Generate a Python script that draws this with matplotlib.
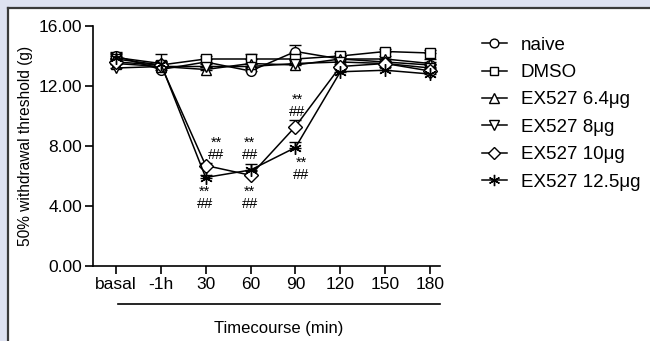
import matplotlib
matplotlib.use("Agg")
import matplotlib.pyplot as plt
from matplotlib.patches import Rectangle
from matplotlib.lines import Line2D
import numpy as np

plt.rcParams['font.family'] = ['Liberation Sans', 'DejaVu Sans']

categories = ["basal", "-1h", "30", "60", "90", "120", "150", "180"]
series_names = ["naive", "DMSO", "EX527 6.4\u03bcg", "EX527 8\u03bcg", "EX527 10\u03bcg", "EX527 12.5\u03bcg"]

naive      = [14.0, 13.1, 13.6, 13.0, 14.3, 13.8, 13.6, 13.4]
dmso       = [13.8, 13.4, 13.8, 13.8, 13.8, 14.0, 14.3, 14.2]
ex527_6_4  = [13.5, 13.3, 13.1, 13.5, 13.4, 13.8, 13.8, 13.5]
ex527_8    = [13.2, 13.3, 13.3, 13.3, 13.5, 13.6, 13.5, 13.2]
ex527_10   = [13.6, 13.4, 6.7, 6.05, 9.3, 13.3, 13.5, 13.0]
ex527_12_5 = [13.9, 13.5, 5.9, 6.4, 7.9, 12.95, 13.05, 12.8]

naive_err      = [0.3, 0.3, 0.2, 0.2, 0.4, 0.2, 0.2, 0.2]
dmso_err       = [0.3, 0.2, 0.2, 0.3, 0.3, 0.2, 0.2, 0.2]
ex527_6_4_err  = [0.3, 0.8, 0.2, 0.3, 0.3, 0.2, 0.2, 0.3]
ex527_8_err    = [0.3, 0.2, 0.2, 0.2, 0.3, 0.2, 0.2, 0.3]
ex527_10_err   = [0.3, 0.2, 0.2, 0.3, 0.4, 0.2, 0.2, 0.3]
ex527_12_5_err = [0.3, 0.2, 0.2, 0.4, 0.4, 0.2, 0.2, 0.3]

y_ticks = [0, 4, 8, 12, 16]

series = [naive, dmso, ex527_6_4, ex527_8, ex527_10, ex527_12_5]
errs = [naive_err, dmso_err, ex527_6_4_err, ex527_8_err, ex527_10_err, ex527_12_5_err]
markers = ['o', 's', '^', 'v', 'D', (6, 2, 0)]
msizes = [7, 7, 7.5, 7.5, 7, 9]

fig = plt.figure(figsize=(6.5, 3.41), dpi=100)
fig.patch.set_facecolor('#dee2f1')
# white panel with dark left/top border
fig.patches.append(Rectangle((7/650, -0.1), 1.2, 1.1 - 7/341, transform=fig.transFigure,
                             facecolor='white', edgecolor='none', zorder=-5))
fig.lines.append(Line2D([7.5/650, 7.5/650], [0, 1 - 7.5/341], transform=fig.transFigure,
                        color='#3a3a3a', lw=1.6, zorder=-4))
fig.lines.append(Line2D([7.5/650, 1], [1 - 7.5/341, 1 - 7.5/341], transform=fig.transFigure,
                        color='#3a3a3a', lw=1.6, zorder=-4))

ax = fig.add_axes([93/650, 1 - 266/341, (440 - 93)/650, (266 - 26)/341])
ax.set_facecolor('none')
x = np.arange(len(categories))

handles = []
for vals, e, m, ms, name in zip(series, errs, markers, msizes, series_names):
    ax.errorbar(x, vals, yerr=[np.zeros(len(e)), e], fmt='none', ecolor='black',
                elinewidth=1.0, capsize=4, capthick=1.0, zorder=2)
    h, = ax.plot(x, vals, color='black', lw=1.1, marker=m, markersize=ms,
                 markerfacecolor='white', markeredgecolor='black', markeredgewidth=1.0,
                 label=name, zorder=3)
    handles.append(h)

ax.set_xlim(-0.51, 7.22)
ax.set_ylim(0, 16)
ax.set_yticks(y_ticks)
ax.set_yticklabels([f"{v:.2f}" for v in y_ticks], fontsize=12.5)
ax.set_xticks(x)
ax.set_xticklabels(categories, fontsize=12.5)
ax.spines['top'].set_visible(False)
ax.spines['right'].set_visible(False)
for s in ['left', 'bottom']:
    ax.spines[s].set_linewidth(1.2)
ax.tick_params(axis='both', length=6, width=1.2, pad=2)
ax.set_ylabel("50% withdrawal threshold (g)", fontsize=11.2, labelpad=4)

# significance marks (x, y centre of the two-line "**/##" stack)
ann = [(2.24, 7.8), (2.98, 7.8), (1.98, 4.55), (2.98, 4.55), (4.04, 10.7), (4.13, 6.45)]
for ax_x, yc in ann:
    ax.text(ax_x, yc, "**\n##", ha='center', va='center', fontsize=10.5,
            linespacing=0.85, multialignment='center')

# bracket line below tick labels and x label
fig.lines.append(Line2D([118/650, 440/650], [1 - 304/341, 1 - 304/341],
                        transform=fig.transFigure, color='black', lw=1.2))
fig.text(279/650, 1 - 328/341, "Timecourse (min)", ha='center', va='center', fontsize=12)

leg = fig.legend(handles=handles, loc='upper left', bbox_to_anchor=(474/650, 1 - 29/341),
                 frameon=False, fontsize=13.5, handlelength=1.35, handletextpad=0.75,
                 labelspacing=0.55, borderaxespad=0, markerscale=0.9)

fig.savefig("out.png", dpi=100, facecolor=fig.get_facecolor())
